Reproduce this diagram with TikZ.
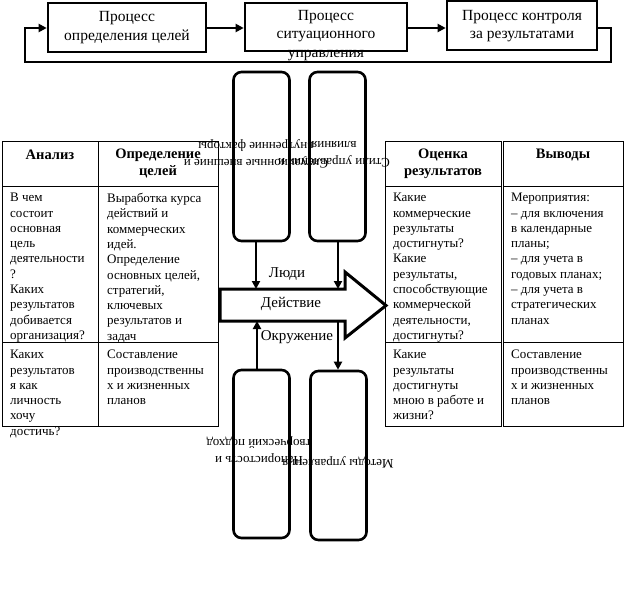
\documentclass[tikz,border=0pt]{standalone}
\usepackage{fontspec}
\setmainfont{Liberation Serif}
\usetikzlibrary{arrows.meta}
\begin{document}
\begin{tikzpicture}[x=1pt,y=-1pt,
  procbox/.style={draw,line width=2.6pt,inner sep=0pt},
  proctext/.style={align=center,inner sep=0pt,font=\fontsize{15.5}{18.5}\selectfont},
  rbox/.style={draw,line width=2.6pt,rounded corners=8pt,inner sep=0pt,minimum width=56pt},
  rtext/.style={align=center,inner sep=0pt,rotate=180,font=\fontsize{13}{17}\selectfont},
  tabtext/.style={anchor=north west,align=left,inner sep=0pt,font=\fontsize{13}{15.3}\selectfont},
  headtext/.style={align=center,inner sep=0pt,font=\bfseries\fontsize{14.5}{17}\selectfont},
  lbl/.style={inner sep=0pt,font=\fontsize{15}{18}\selectfont},
  thick line/.style={line width=2.6pt},
  arr/.style={line width=2.6pt,-{Triangle[length=8pt,width=8pt]}},
  tab/.style={line width=0.9pt}
]
\useasboundingbox (0,0) rectangle (625,597);

% top process boxes
\node[procbox,minimum width=158pt,minimum height=49pt] (b1) at (127,27.5) {};
\node[procbox,minimum width=162pt,minimum height=48pt] (b2) at (326,27) {};
\node[procbox,minimum width=150pt,minimum height=49pt] (b3) at (522,25.5) {};
\node[proctext] (t1) at (127,27.5) {Процесс\\определения целей};
\node[proctext] (t2) at (326,35.5) {Процесс\\ситуационного\\управления};
\node[proctext] (t3) at (522,26) {Процесс контроля\\за результатами};

\draw[arr] (b1.east |- 0,28) -- (b2.west |- 0,28);
\draw[arr] (b2.east |- 0,28) -- (b3.west |- 0,28);
\coordinate (l1) at (611,28);
\coordinate (l2) at (611,62);
\coordinate (l3) at (25,62);
\coordinate (l4) at (25,28);
\draw[arr] (b3.east |- l1) -- (l1) -- (l2) -- (l3) -- (l4) -- (b1.west |- l4);

% tables
\draw[tab] (2,141) rectangle (218,426);
\draw[tab] (98,141) -- (98,426);
\draw[tab] (2,186) -- (218,186);
\draw[tab] (2,342) -- (218,342);
\draw[tab] (385,141) rectangle (501,426);
\draw[tab] (503,141) rectangle (623,426);
\draw[tab] (385,186) -- (501,186);
\draw[tab] (385,342) -- (501,342);
\draw[tab] (503,186) -- (623,186);
\draw[tab] (503,342) -- (623,342);

\node[headtext] (h1) at (50,155) {Анализ};
\node[headtext] (h2) at (158,163.5) {Определение\\целей};
\node[headtext] (h3) at (443,163.5) {Оценка\\результатов};
\node[headtext] (h4) at (563,155) {Выводы};

\node[tabtext] (c11) at (10,193) {В чем\\состоит\\основная\\цель\\деятельности\\?\\Каких\\результатов\\добивается\\организация?};
\node[tabtext] (c12) at (107,193) {Выработка курса\\действий и\\коммерческих\\идей.\\Определение\\основных целей,\\стратегий,\\ключевых\\результатов и\\задач};
\node[tabtext] (c21) at (10,350) {Каких\\результатов\\я как\\личность\\хочу\\достичь?};
\node[tabtext] (c22) at (107,350) {Составление\\производственны\\х и жизненных\\планов};
\node[tabtext] (c13) at (393,193) {Какие\\коммерческие\\результаты\\достигнуты?\\Какие\\результаты,\\способствующие\\коммерческой\\деятельности,\\достигнуты?};
\node[tabtext] (c14) at (511,193) {Мероприятия:\\– для включения\\в календарные\\планы;\\– для учета в\\годовых планах;\\– для учета в\\стратегических\\планах};
\node[tabtext] (c23) at (393,350) {Какие\\результаты\\достигнуты\\мною в работе и\\жизни?};
\node[tabtext] (c24) at (511,350) {Составление\\производственны\\х и жизненных\\планов};

% rounded boxes
\node[rbox,minimum height=169pt] (u1) at (261.5,156.5) {};
\node[rbox,minimum height=169pt] (u2) at (337.5,156.5) {};
\node[rbox,minimum height=168pt] (d1) at (261.5,454) {};
\node[rbox,minimum height=169pt] (d2) at (338.5,455.5) {};

% big arrow
\draw[line width=3pt,fill=white,line join=miter] (220,289) coordinate (s1) -- (345,289) -- (345,272) -- (386,305.5) coordinate (tip) -- (345,338) -- (345,321) -- (220,321) coordinate (s2) -- cycle;
\coordinate (a1) at (256,289);
\coordinate (a2) at (338,289);
\coordinate (a3) at (257,321);
\coordinate (a4) at (338,321);
\draw[arr] (u1.south -| a1) -- (a1);
\draw[arr] (u2.south -| a2) -- (a2);
\draw[arr] (d1.north -| a3) -- (a3);
\draw[arr] (a4) -- (d2.north -| a4);

\node[lbl] (p1) at (287,274) {Люди};
\node[lbl] (p2) at (291,304) {Действие};
\node[lbl] (p3) at (297,337) {Окружение};

% rotated texts
\node[rtext] (r1) at (256,154) {Ситуационные внешние и\\внутренние факторы};
\node[rtext] (r2) at (334,154) {Стили управления и\\влияния};
\node[rtext] (r3) at (259,451) {Напористость и\\творческий подход};
\node[rtext] (r4) at (338,462) {Методы управления};
\end{tikzpicture}
\end{document}
